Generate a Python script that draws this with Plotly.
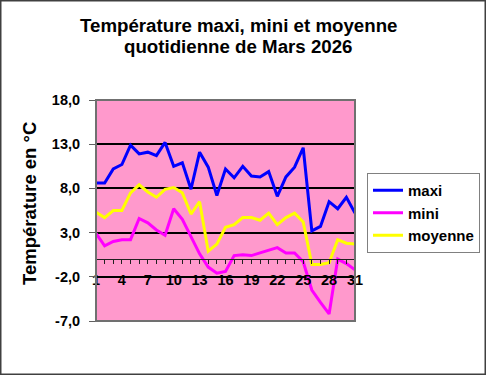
import plotly.graph_objects as go

days = list(range(1, 32))
maxi = [8.6, 8.6, 10.2, 10.7, 12.9, 11.9, 12.1, 11.7, 13.2, 10.5, 10.9, 7.9, 12.1, 10.4, 7.2, 10.2,
        9.2, 10.5, 9.4, 9.3, 9.9, 7.1, 9.3, 10.4, 12.6, 3.2, 3.7, 6.5, 5.7, 7.0, 5.2]
mini = [2.9, 1.5, 2.0, 2.2, 2.2, 4.6, 4.1, 3.3, 2.7, 5.7, 4.5, 2.5, 0.6, -0.9, -1.6, -1.4,
        0.4, 0.5, 0.4, 0.7, 1.0, 1.3, 0.7, 0.7, -0.3, -3.5, -4.9, -6.2, 0.0, -0.5, -1.2]
moyenne = [5.3, 4.7, 5.5, 5.5, 7.5, 8.4, 7.6, 7.0, 7.9, 8.1, 7.5, 5.1, 6.5, 0.9, 1.7, 3.6,
           3.9, 4.7, 4.7, 4.4, 5.2, 3.9, 4.7, 5.2, 4.2, -0.6, -0.6, -0.4, 2.2, 1.8, 1.7]
x_tick_labels = [str(d) if (d - 1) % 3 == 0 else "" for d in days]
y_tick_vals = [18, 13, 8, 3, -2, -7]
y_tick_labels = ["18,0", "13,0", "8,0", "3,0", "-2,0", "-7,0"]
title_lines = ["Température maxi, mini et moyenne", "quotidienne de Mars 2026"]

FONT = "Arial, Liberation Sans, sans-serif"
W, H = 486, 375
L, R, T, B = 96, 355, 100, 321
pw, ph = R - L, B - T

def px(xp):
    return (xp - L) / pw

def py(yp):
    return (B - yp) / ph

fig = go.Figure()
for name, vals, col in [("maxi", maxi, "#0000FF"), ("mini", mini, "#FF00FF"), ("moyenne", moyenne, "#FFFF00")]:
    fig.add_trace(go.Scatter(x=days, y=vals, mode="lines", name=name,
                             line=dict(color=col, width=3)))

fig.update_layout(
    width=W, height=H, autosize=False,
    margin=dict(l=L, r=W - R, t=T, b=H - B, pad=0, autoexpand=False),
    paper_bgcolor="white", plot_bgcolor="#FF99CC",
    font=dict(family=FONT, color="black"),
    showlegend=True,
    legend=dict(x=px(367), y=py(173), xanchor="left", yanchor="top",
                bgcolor="white", bordercolor="#808080", borderwidth=1,
                font=dict(size=15, family=FONT, weight="bold"),
                itemwidth=30, tracegroupgap=6),
    xaxis=dict(range=[1, 31], tickmode="array", tickvals=days, ticktext=x_tick_labels,
               anchor="free", position=7 / 25, showgrid=False, zeroline=False,
               showline=True, linecolor="#202020", linewidth=1,
               ticks="outside", ticklen=4, tickcolor="#202020", tickwidth=1,
               tickfont=dict(size=14.5, family=FONT, weight="bold"), ticklabelstandoff=3),
    yaxis=dict(range=[-7, 18], tickmode="array", tickvals=y_tick_vals, ticktext=y_tick_labels,
               showgrid=True, gridcolor="black", gridwidth=2, zeroline=False,
               showline=False, ticks="outside", ticklen=6, tickcolor="#606060",
               tickfont=dict(size=14.5, family=FONT, weight="bold"), ticklabelstandoff=6),
    shapes=[
        dict(type="rect", xref="paper", yref="paper", x0=0, x1=1, y0=0, y1=1,
             line=dict(color="#707070", width=2), layer="above"),
        dict(type="rect", xref="paper", yref="paper",
             x0=px(0.75), x1=px(485.25), y0=py(374.25), y1=py(0.75),
             line=dict(color="#404040", width=1.5)),
    ],
    annotations=[
        dict(text=title_lines[0], xref="paper", yref="paper", x=px(238), y=py(25.5),
             xanchor="center", yanchor="middle", showarrow=False,
             font=dict(size=18.7, family=FONT, weight="bold")),
        dict(text=title_lines[1], xref="paper", yref="paper", x=px(238), y=py(46.5),
             xanchor="center", yanchor="middle", showarrow=False,
             font=dict(size=18.7, family=FONT, weight="bold")),
        dict(text="Température en °C", xref="paper", yref="paper", x=px(29), y=py(204),
             xanchor="center", yanchor="middle", textangle=-90, showarrow=False,
             font=dict(size=18.5, family=FONT, weight="bold")),
    ],
)

fig.write_html("out.html", config={"displayModeBar": False, "responsive": False},
               post_script="document.body.style.margin='0';document.body.style.overflow='hidden';")
